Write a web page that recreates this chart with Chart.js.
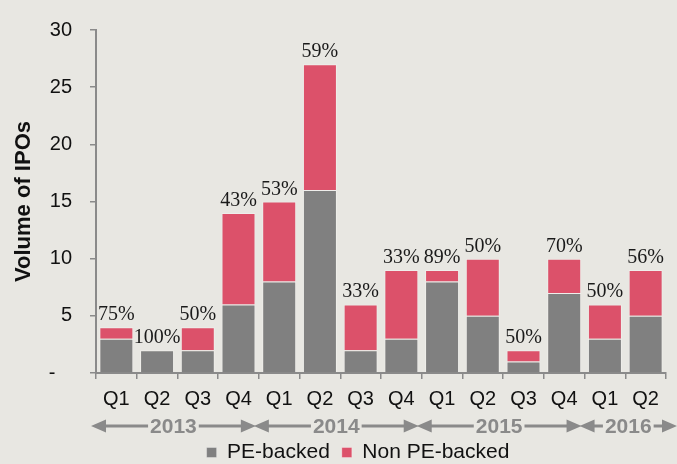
<!DOCTYPE html>
<html>
<head>
<meta charset="utf-8">
<script src="https://cdn.jsdelivr.net/npm/chart.js@4"></script>
<style>
  html, body { margin: 0; padding: 0; background: #e8e7e2; }
</style>
</head>
<body>
<canvas id="ipoChart" width="677" height="464"></canvas>
<script>
const quarters = ['Q1', 'Q2', 'Q3', 'Q4', 'Q1', 'Q2', 'Q3', 'Q4', 'Q1', 'Q2', 'Q3', 'Q4', 'Q1', 'Q2'];
const peBacked = [3, 2, 2, 6, 8, 16, 2, 3, 8, 5, 1, 7, 3, 5];
const nonPeBacked = [1, 0, 2, 8, 7, 11, 4, 6, 1, 5, 1, 3, 3, 4];
const peShare = ['75%', '100%', '50%', '43%', '53%', '59%', '33%', '33%', '89%', '50%', '50%', '70%', '50%', '56%'];
const years = ['2013', '2014', '2015', '2016'];
const yearFirst = [0, 4, 8, 12];
const yearLast = [3, 7, 11, 13];

const SANS = 'Liberation Sans, Arial, sans-serif';
const AXIS_GREY = '#8a8a8a';

// percentages above each stacked column
const shareLabels = {
    id: 'shareLabels',
    afterDatasetsDraw(chart) {
        const ctx = chart.ctx;
        const meta = chart.getDatasetMeta(1);
        ctx.save();
        ctx.font = '20px "Liberation Serif", Georgia, serif';
        ctx.fillStyle = '#1a1a1a';
        ctx.textAlign = 'center';
        ctx.textBaseline = 'alphabetic';
        meta.data.forEach((bar, i) => {
            ctx.fillText(peShare[i], bar.x, bar.y - 7);
        });
        ctx.restore();
    }
};

// year bands with double arrows under the quarter labels
const yearRow = {
    id: 'yearRow',
    afterDraw(chart) {
        const ctx = chart.ctx;
        const xs = chart.scales.x;
        const half = (xs.getPixelForValue(1) - xs.getPixelForValue(0)) / 2;
        const y = 426;
        const head = 15, hh = 6.5;
        ctx.save();
        ctx.font = 'bold 21px ' + SANS;
        ctx.fillStyle = AXIS_GREY;
        ctx.strokeStyle = AXIS_GREY;
        ctx.lineWidth = 3;
        ctx.textAlign = 'center';
        ctx.textBaseline = 'middle';
        years.forEach((yr, k) => {
            const left = xs.getPixelForValue(yearFirst[k]) - half - 5;
            let right = xs.getPixelForValue(yearLast[k]) + half - 3;
            if (k === years.length - 1) right = chart.width;
            const mid = (left + right) / 2;
            const w = ctx.measureText(yr).width;
            ctx.beginPath();
            ctx.moveTo(left + head - 1, y);
            ctx.lineTo(mid - w / 2 - 2, y);
            ctx.moveTo(mid + w / 2 + 2, y);
            ctx.lineTo(right - head + 1, y);
            ctx.stroke();
            ctx.beginPath();
            ctx.moveTo(left, y);
            ctx.lineTo(left + head, y - hh);
            ctx.lineTo(left + head, y + hh);
            ctx.closePath();
            ctx.moveTo(right, y);
            ctx.lineTo(right - head, y - hh);
            ctx.lineTo(right - head, y + hh);
            ctx.closePath();
            ctx.fill();
            ctx.fillText(yr, mid, y + 1);
        });
        ctx.restore();
    }
};

// nudge the legend so it sits under the plot like the original
const legendShift = {
    id: 'legendShift',
    afterLayout(chart) {
        const lg = chart.legend;
        if (!lg) return;
        lg.left += 25; lg.right += 25;
        lg.top += 9; lg.bottom += 9;
    }
};

const ctx = document.getElementById('ipoChart').getContext('2d');

new Chart(ctx, {
    type: 'bar',
    data: {
        labels: quarters,
        datasets: [{
            label: 'PE-backed',
            data: peBacked,
            backgroundColor: '#808080',
            borderColor: 'rgba(255, 255, 255, 0.3)',
            borderWidth: c => (c.raw === 0 ? 0 : 1),
            barPercentage: 0.835,
            categoryPercentage: 1
        }, {
            label: 'Non PE-backed',
            data: nonPeBacked,
            backgroundColor: '#dc516a',
            borderColor: 'rgba(255, 255, 255, 0.3)',
            borderWidth: c => (c.raw === 0 ? 0 : 1),
            barPercentage: 0.835,
            categoryPercentage: 1
        }]
    },
    options: {
        responsive: false,
        animation: false,
        devicePixelRatio: 1,
        layout: {
            padding: { top: 29, right: 11, bottom: 0, left: 0 }
        },
        plugins: {
            legend: {
                position: 'bottom',
                labels: {
                    font: { family: SANS, size: 21 },
                    color: '#111',
                    boxWidth: 10,
                    boxHeight: 10,
                    padding: 12
                }
            },
            tooltip: { enabled: false }
        },
        scales: {
            x: {
                stacked: true,
                grid: {
                    drawOnChartArea: false,
                    tickLength: 6,
                    color: AXIS_GREY,
                    lineWidth: 1.5,
                    offset: true
                },
                border: { color: AXIS_GREY, width: 2 },
                ticks: {
                    font: { family: SANS, size: 20 },
                    color: '#111',
                    padding: 8,
                    maxRotation: 0,
                    autoSkip: false
                },
                afterFit: scale => { scale.height = 48; }
            },
            y: {
                stacked: true,
                min: 0,
                max: 30,
                grid: {
                    drawOnChartArea: false,
                    tickLength: 6,
                    color: AXIS_GREY,
                    lineWidth: 1.5
                },
                border: { color: AXIS_GREY, width: 2 },
                ticks: {
                    stepSize: 5,
                    font: { family: SANS, size: 20 },
                    color: '#111',
                    padding: 18,
                    callback: v => (v === 0 ? '-   ' : v)
                },
                title: {
                    display: true,
                    text: 'Volume of IPOs',
                    font: { family: SANS, size: 22, weight: 'bold' },
                    color: '#111',
                    padding: { top: 11, bottom: 0 }
                },
                afterFit: scale => { scale.width = 96; }
            }
        }
    },
    plugins: [shareLabels, yearRow, legendShift]
});
</script>
</body>
</html>
